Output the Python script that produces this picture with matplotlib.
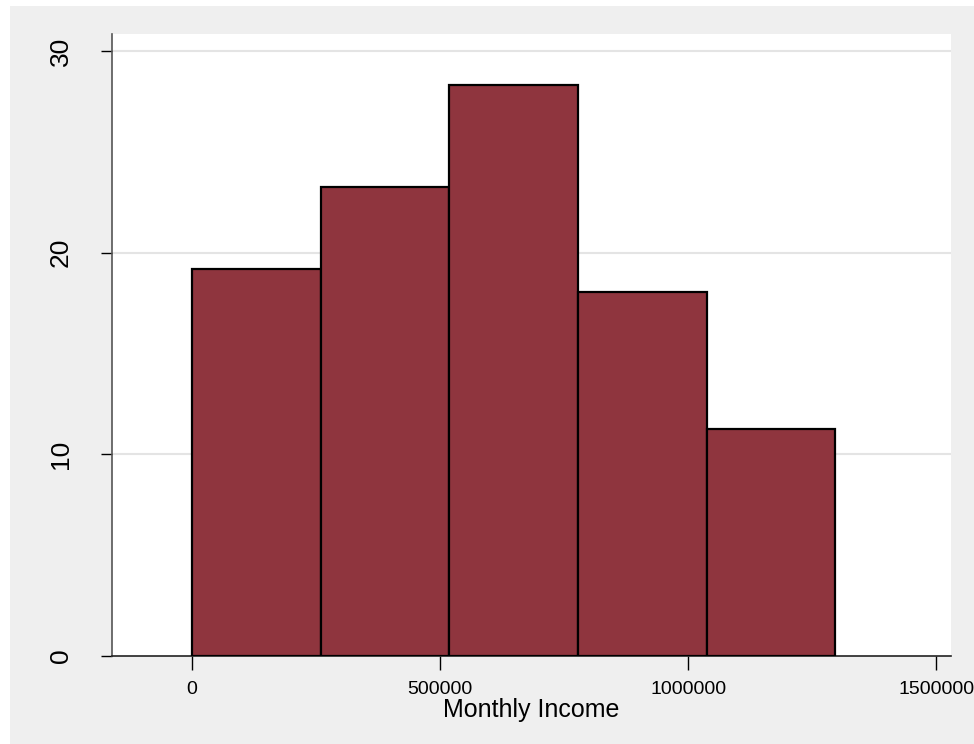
import matplotlib
matplotlib.use("Agg")
import matplotlib.pyplot as plt
from matplotlib.patches import Rectangle

# histogram of monthly income (percent)
bin_edges = [0, 259300, 518600, 777900, 1037200, 1296500]
percent = [19.18, 23.24, 28.33, 18.03, 11.25]
x_ticks = [0, 500000, 1000000, 1500000]
y_ticks = [0, 10, 20, 30]

plt.rcParams['font.family'] = ['Liberation Sans', 'DejaVu Sans']

fig = plt.figure(figsize=(9.74, 7.44), dpi=100)
fig.patch.set_facecolor('white')
# grey graph region (stata style), with a thin white margin
fig.patches.append(Rectangle((10 / 974, 0), 1 - 10 / 974, 1 - 6 / 744,
                             transform=fig.transFigure, facecolor='#efefef',
                             edgecolor='none', zorder=-10))

ax = fig.add_axes([112 / 974, 1 - 656 / 744, (951 - 112) / 974, (656 - 34) / 744])
ax.set_zorder(5)
ax.set_facecolor('white')

widths = [b - a for a, b in zip(bin_edges[:-1], bin_edges[1:])]
ax.bar(bin_edges[:-1], percent, width=widths, align='edge',
       color='#8f353e', edgecolor='black', linewidth=1.6, zorder=3)

ax.set_xlim(-161300, 1530000)
ax.set_ylim(0, 30.84)

ax.set_xticks(x_ticks)
ax.set_xticklabels([str(t) for t in x_ticks], fontsize=14)
ax.set_yticks(y_ticks)
ax.set_yticklabels([str(t) for t in y_ticks], fontsize=19, rotation=90, va='center')

for y in y_ticks[1:]:
    ax.axhline(y, color='#e4e4e4', linewidth=1.5, zorder=1)

for side in ['top', 'right']:
    ax.spines[side].set_visible(False)
ax.spines['left'].set_color('#555555')
ax.spines['bottom'].set_color('#222222')
ax.spines['left'].set_linewidth(1.2)
ax.spines['bottom'].set_linewidth(1.2)
ax.tick_params(axis='x', length=10, width=1.0, pad=8, colors='black')
ax.tick_params(axis='y', length=8, width=1.0, pad=20, colors='black')

ax.set_xlabel('Monthly Income', fontsize=18, labelpad=0)

fig.savefig('out.png', dpi=100, facecolor=fig.get_facecolor())
